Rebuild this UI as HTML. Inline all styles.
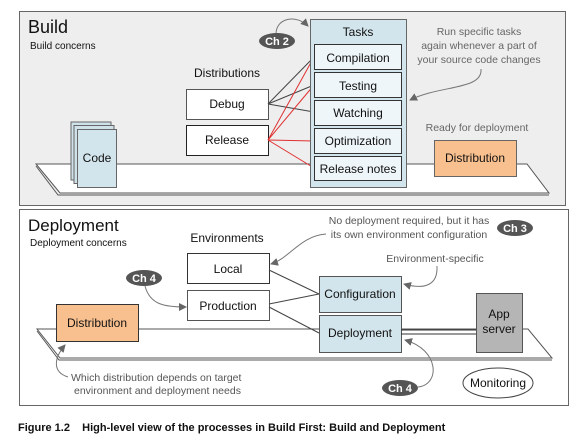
<!DOCTYPE html>
<html><head><style>
body{margin:0;background:#fff;width:584px;height:448px;overflow:hidden}
svg{display:block}
text{font-family:"Liberation Sans",Arial,sans-serif;fill:#111}
</style></head><body>
<svg width="584" height="448" viewBox="0 0 584 448">
<defs>
<marker id="ar" markerWidth="8" markerHeight="8" refX="7" refY="4" orient="auto" markerUnits="userSpaceOnUse">
<path d="M0,0 L8,4 L0,8 z" fill="#666"/></marker>
</defs>
<!-- Build panel -->
<rect x="19.5" y="11.5" width="546" height="194" fill="#eeeeee" stroke="#666" stroke-width="1"/>
<text x="28" y="33" font-size="18">Build</text>
<text x="30" y="49" font-size="10">Build concerns</text>
<!-- platform -->
<path d="M36,164 L527,164 L549,193 L60,193 Z" fill="#fff" stroke="#555" stroke-width="1"/>
<path d="M36,166 L58,195 L549,195" fill="none" stroke="#555" stroke-width="1"/>
<!-- code -->
<rect x="71" y="122" width="40" height="58" fill="#cfe2ea" stroke="#666"/>
<rect x="74" y="125.5" width="40" height="58" fill="#cfe2ea" stroke="#666"/>
<rect x="77.5" y="129.5" width="39" height="58" fill="#d3e5ec" stroke="#666"/>
<text x="97" y="162" font-size="12" text-anchor="middle">Code</text>
<!-- Ch2 -->
<path d="M276,34 C276,18 296,14 308,26" fill="none" stroke="#777" marker-end="url(#ar)"/>
<ellipse cx="277" cy="41" rx="18" ry="8" fill="#555"/>
<text x="277" y="45" font-size="11" font-weight="bold" text-anchor="middle" style="fill:#fff">Ch 2</text>
<text x="227" y="77" font-size="12" text-anchor="middle">Distributions</text>
<rect x="186.5" y="89.5" width="82" height="30" fill="#fff" stroke="#555"/>
<text x="227" y="108" font-size="12" text-anchor="middle">Debug</text>
<rect x="186.5" y="125.5" width="82" height="30" fill="#fff" stroke="#222"/>
<text x="227" y="144" font-size="12" text-anchor="middle">Release</text>
<!-- lines -->
<g stroke="#444" stroke-width="1"><line x1="268" y1="104" x2="314" y2="57"/><line x1="268" y1="104" x2="314" y2="85"/><line x1="268" y1="104" x2="314" y2="112"/></g>
<g stroke="#e03030" stroke-width="1"><line x1="268" y1="140" x2="314" y2="57"/><line x1="268" y1="140" x2="314" y2="85"/><line x1="268" y1="140" x2="314" y2="141"/><line x1="268" y1="140" x2="314" y2="168"/></g>
<!-- tasks -->
<rect x="310.5" y="19.5" width="96" height="168" fill="#d3e5ec" stroke="#666"/>
<text x="358" y="36" font-size="12" text-anchor="middle">Tasks</text>
<g fill="#eef6f9" stroke="#333">
<rect x="314.5" y="44.5" width="87" height="25"/><rect x="314.5" y="72.5" width="87" height="25"/><rect x="314.5" y="100.5" width="87" height="25"/><rect x="314.5" y="128.5" width="87" height="25"/><rect x="314.5" y="156.5" width="87" height="24"/></g>
<g font-size="12" text-anchor="middle">
<text x="358" y="62">Compilation</text><text x="358" y="90">Testing</text><text x="358" y="117">Watching</text><text x="358" y="145">Optimization</text><text x="358" y="173">Release notes</text></g>
<g font-size="10.5" text-anchor="middle" style="fill:#666">
<text x="479" y="35" style="fill:#666">Run specific tasks</text><text x="479" y="49" style="fill:#666">again whenever a part of</text><text x="479" y="63" style="fill:#666">your source code changes</text>
<text x="477" y="131" style="fill:#666">Ready for deployment</text></g>
<path d="M481,69 C483,90 440,85 410,100" fill="none" stroke="#777" marker-end="url(#ar)"/>
<rect x="434.5" y="140.5" width="82" height="36" fill="#f9c08f" stroke="#666"/>
<text x="475" y="162" font-size="12" text-anchor="middle">Distribution</text>

<!-- Deployment panel -->
<rect x="19.5" y="209.5" width="549" height="196" fill="#fff" stroke="#666"/>
<text x="28" y="231" font-size="17">Deployment</text>
<text x="30" y="246" font-size="10">Deployment concerns</text>
<path d="M37,329 L528,329 L552,358 L60,358 Z" fill="#fff" stroke="#555"/>
<path d="M37,331 L59,360 L552,360" fill="none" stroke="#555"/>
<text x="227" y="242" font-size="12" text-anchor="middle">Environments</text>
<rect x="187.5" y="253.5" width="82" height="30" fill="#fff" stroke="#333"/>
<text x="228" y="273" font-size="12" text-anchor="middle">Local</text>
<rect x="187.5" y="290.5" width="82" height="30" fill="#fff" stroke="#555"/>
<text x="228" y="310" font-size="12" text-anchor="middle">Production</text>
<g stroke="#444"><line x1="269" y1="270" x2="319" y2="294"/><line x1="269" y1="304" x2="319" y2="294"/><line x1="269" y1="307" x2="319" y2="333"/></g>
<rect x="56.5" y="304.5" width="82" height="37" fill="#f9c08f" stroke="#333"/>
<text x="97" y="327" font-size="12" text-anchor="middle">Distribution</text>
<rect x="319.5" y="276.5" width="82" height="36" fill="#d3e5ec" stroke="#555"/>
<text x="360" y="298" font-size="12" text-anchor="middle">Configuration</text>
<rect x="319.5" y="315.5" width="82" height="37" fill="#d3e5ec" stroke="#555"/>
<text x="360" y="337" font-size="12" text-anchor="middle">Deployment</text>
<line x1="401" y1="330" x2="476" y2="330" stroke="#333"/><line x1="401" y1="334" x2="476" y2="334" stroke="#333"/>
<rect x="476.5" y="293.5" width="46" height="59" fill="#b5b5b5" stroke="#555"/>
<text x="499" y="318" font-size="12" text-anchor="middle">App</text>
<text x="499" y="333" font-size="12" text-anchor="middle">server</text>
<ellipse cx="498" cy="383" rx="35" ry="15" fill="#fff" stroke="#444"/>
<text x="498" y="387" font-size="12" text-anchor="middle">Monitoring</text>
<!-- ch badges -->
<ellipse cx="144" cy="278" rx="18" ry="8" fill="#555"/>
<text x="144" y="282" font-size="11" font-weight="bold" text-anchor="middle" style="fill:#fff">Ch 4</text>
<path d="M145,286 C150,305 165,307 186,307" fill="none" stroke="#777" marker-end="url(#ar)"/>
<ellipse cx="515" cy="228" rx="18" ry="8" fill="#555"/>
<text x="515" y="232" font-size="11" font-weight="bold" text-anchor="middle" style="fill:#fff">Ch 3</text>
<ellipse cx="400" cy="388" rx="18" ry="8" fill="#555"/>
<text x="400" y="392" font-size="11" font-weight="bold" text-anchor="middle" style="fill:#fff">Ch 4</text>
<path d="M418,387 C440,385 440,350 405,340" fill="none" stroke="#777" marker-end="url(#ar)"/>
<g font-size="10.5" text-anchor="middle">
<text x="409" y="224" style="fill:#555">No deployment required, but it has</text>
<text x="409" y="238" style="fill:#555">its own environment configuration</text>
<text x="435" y="262" style="fill:#555">Environment-specific</text></g>
<path d="M326,234 C300,236 290,258 271,264" fill="none" stroke="#777" marker-end="url(#ar)"/>
<path d="M437,266 C438,285 425,290 404,284" fill="none" stroke="#777" marker-end="url(#ar)"/>
<text x="71" y="381" font-size="10.5" style="fill:#555">Which distribution depends on target</text>
<text x="74" y="394" font-size="10.5" style="fill:#555">environment and deployment needs</text>
<path d="M68,377 C52,372 54,358 65,345" fill="none" stroke="#777" marker-end="url(#ar)"/>
<text x="18" y="431" font-size="11" font-weight="bold">Figure 1.2&#160;&#160;&#160; High-level view of the processes in Build First: Build and Deployment</text>
</svg>
</body></html>
